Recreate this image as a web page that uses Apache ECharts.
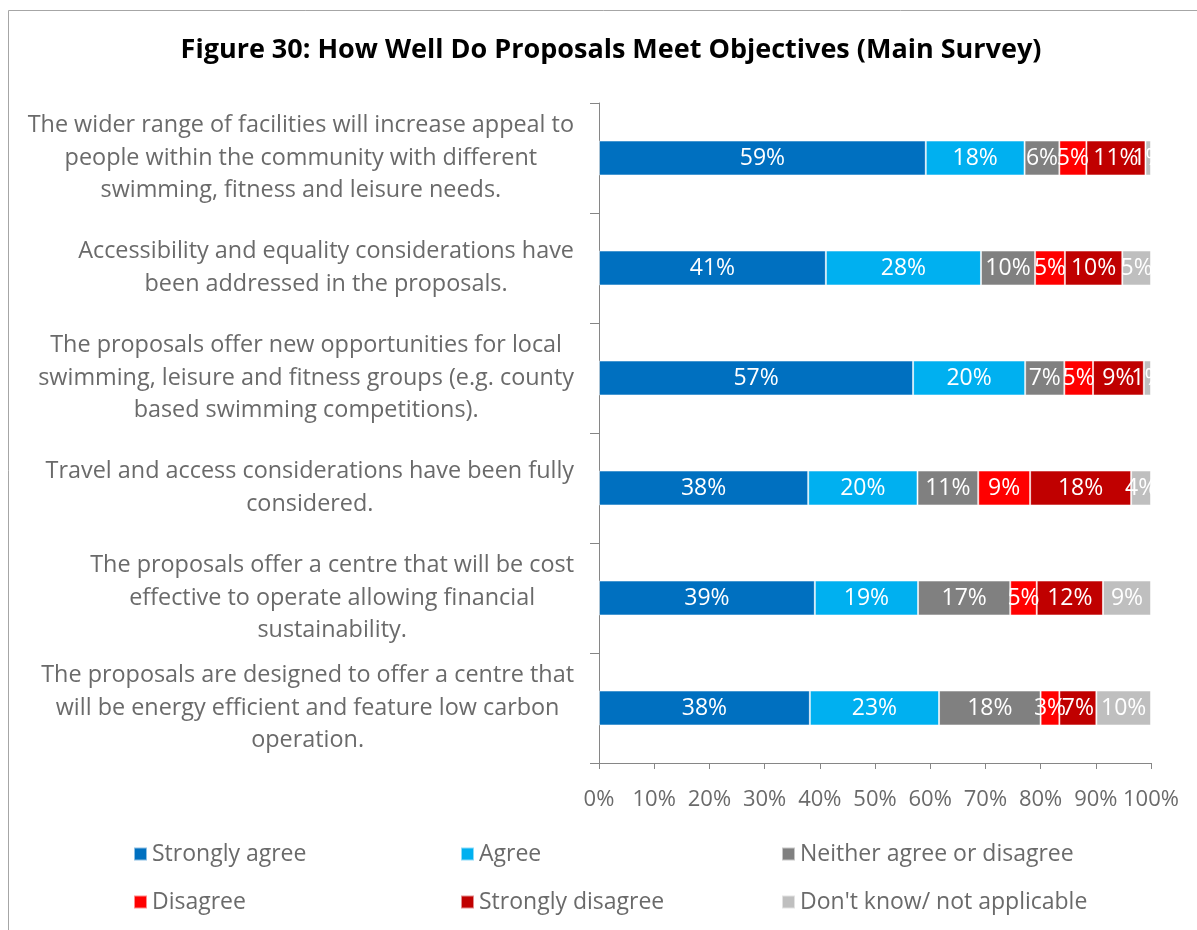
<!DOCTYPE html>
<html>
<head>
<meta charset="utf-8">
<script src="https://cdn.jsdelivr.net/npm/echarts@6/dist/echarts.min.js"></script>
<style>
  html, body { margin: 0; padding: 0; background: #fff; }
  #chart { width: 1197px; height: 930px; }
</style>
</head>
<body>
<div id="chart"></div>
<script>
// Survey statements (top to bottom)
const statements = [
  'The wider range of facilities will increase appeal to\npeople within the community with different\nswimming, fitness and leisure needs.',
  'Accessibility and equality considerations have\nbeen addressed in the proposals.',
  'The proposals offer new opportunities for local\nswimming, leisure and fitness groups (e.g. county\nbased swimming competitions).',
  'Travel and access considerations have been fully\nconsidered.',
  'The proposals offer a centre that will be cost\neffective to operate allowing financial\nsustainability.',
  'The proposals are designed to offer a centre that\nwill be energy efficient and feature low carbon\noperation.'
];

// Share of responses (%) per statement
const stronglyAgree    = [59.2, 41.1, 56.9, 37.9, 39.1, 38.2];
const agree            = [17.9, 28.1, 20.3, 19.8, 18.7, 23.4];
const neither          = [6.3, 9.8, 7.1, 11.0, 16.7, 18.4];
const disagree         = [4.9, 5.4, 5.2, 9.4, 4.8, 3.4];
const stronglyDisagree = [10.7, 10.4, 9.2, 18.3, 12.0, 6.7];
const dontKnow         = [1.0, 5.2, 1.3, 3.6, 8.7, 9.9];

const xTicks = ['0%', '10%', '20%', '30%', '40%', '50%', '60%', '70%', '80%', '90%', '100%'];

const responses = [
  { name: 'Strongly agree', data: stronglyAgree, color: '#0070C0' },
  { name: 'Agree', data: agree, color: '#00B0F0' },
  { name: 'Neither agree or disagree', data: neither, color: '#808080' },
  { name: 'Disagree', data: disagree, color: '#FF0000' },
  { name: 'Strongly disagree', data: stronglyDisagree, color: '#C00000' },
  { name: "Don't know/ not applicable", data: dontKnow, color: '#BFBFBF' }
];

const FONT = '"Open Sans", Lato, sans-serif';
const GREY_TEXT = '#6A6A6A';

const chart = echarts.init(document.getElementById('chart'), null, { renderer: 'canvas' });

const legendBase = {
  orient: 'vertical',
  icon: 'rect',
  itemWidth: 13,
  itemHeight: 13,
  itemGap: 20,
  padding: 0,
  top: 840,
  textStyle: { color: GREY_TEXT, fontSize: 23, lineHeight: 28, fontFamily: FONT }
};

chart.setOption({
  animation: false,
  textStyle: { fontFamily: FONT },
  title: {
    text: 'Figure 30: How Well Do Proposals Meet Objectives (Main Survey)',
    left: 606,
    textAlign: 'center',
    top: 32,
    textStyle: { fontSize: 27, fontWeight: 'bold', color: '#000', fontFamily: FONT }
  },
  graphic: [{
    type: 'rect',
    shape: { x: 8.5, y: 10.5, width: 1300, height: 1000 },
    style: { fill: 'none', stroke: '#A6A6A6', lineWidth: 1 },
    silent: true
  }],
  legend: [
    Object.assign({ left: 133, data: ['Strongly agree', 'Disagree'] }, legendBase),
    Object.assign({ left: 460, data: ['Agree', 'Strongly disagree'] }, legendBase),
    Object.assign({ left: 781, data: ['Neither agree or disagree', "Don't know/ not applicable"] }, legendBase)
  ],
  grid: { left: 599, right: 46, top: 103, bottom: 167, containLabel: false },
  xAxis: {
    type: 'value',
    min: 0,
    max: 100,
    interval: 10,
    axisLine: { show: true, lineStyle: { color: '#868686' } },
    axisTick: { show: true, length: 6, lineStyle: { color: '#868686' } },
    splitLine: { show: false },
    axisLabel: {
      color: GREY_TEXT,
      fontSize: 22,
      margin: 26,
      fontFamily: FONT,
      formatter: (v) => xTicks[Math.round(v / 10)]
    }
  },
  yAxis: {
    type: 'category',
    inverse: true,
    data: statements,
    axisLine: { show: true, lineStyle: { color: '#868686' } },
    axisTick: { show: true, length: 9, lineStyle: { color: '#868686' } },
    axisLabel: {
      color: GREY_TEXT,
      fontSize: 23.4,
      fontFamily: FONT,
      margin: 25,
      align: 'right',
      lineHeight: 32.5,
      formatter: (txt) => txt.split('\n').map((l) => '{c|' + l + '}').join('\n'),
      rich: {
        c: { align: 'center', color: GREY_TEXT, fontSize: 23.4, fontFamily: FONT, lineHeight: 32.5 }
      }
    }
  },
  series: responses.map((r) => ({
    name: r.name,
    type: 'bar',
    stack: 'total',
    barWidth: 35,
    data: r.data,
    itemStyle: { color: r.color, borderColor: 'rgba(255,255,255,0.55)', borderWidth: 1 },
    label: {
      show: true,
      position: 'inside',
      color: '#fff',
      fontSize: 23,
      fontFamily: FONT,
      formatter: (p) => Math.round(p.value) + '%'
    }
  }))
});
</script>
</body>
</html>
